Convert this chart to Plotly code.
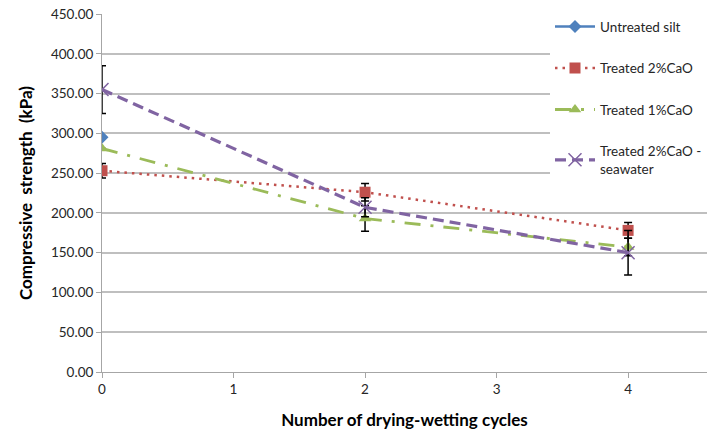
import plotly.graph_objects as go

cycles = [0, 2, 4]
untreated_x = [0]
untreated = [295]
treated2 = [253, 226, 178]
treated2_err = [9, 11, 10]
treated1 = [281, 193, 157]
treated1_err = [0, 16, 11]
seawater = [355, 207, 150]
seawater_err = [30, 12, 28]

font = "Lato, 'Open Sans', sans-serif"

fig = go.Figure()
fig.add_trace(go.Scatter(
    x=untreated_x, y=untreated, name="Untreated silt", mode="lines+markers",
    line=dict(color="#4F81BD", width=2.5),
    marker=dict(symbol="diamond", size=10, color="#4F81BD"),
    legendgroup="a"))
fig.add_trace(go.Scatter(
    x=cycles, y=treated2, name="Treated 2%CaO", mode="lines+markers",
    line=dict(color="#C0504D", width=2.5, dash="2.5px,5px"),
    marker=dict(symbol="square", size=11, color="#C0504D"),
    error_y=dict(type="data", array=treated2_err, color="black", thickness=1.5, width=4),
    legendgroup="b"))
fig.add_trace(go.Scatter(
    x=cycles, y=treated1, name="Treated 1%CaO", mode="lines+markers",
    line=dict(color="#9BBB59", width=2.8, dash="16px,10px,3px,10px"),
    marker=dict(symbol="triangle-up", size=11, color="#9BBB59"),
    error_y=dict(type="data", array=treated1_err, color="black", thickness=1.5, width=4),
    legendgroup="c"))
fig.add_trace(go.Scatter(
    x=cycles, y=seawater, name="Treated 2%CaO -<br>seawater", mode="lines+markers",
    line=dict(color="#8064A2", width=3.2, dash="11px,6px"),
    marker=dict(symbol="x-thin-open", size=13, color="#8064A2", line=dict(color="#8064A2", width=1.5)),
    error_y=dict(type="data", array=seawater_err, color="black", thickness=1.5, width=4),
    legendgroup="d"))

fig.update_layout(
    width=717, height=432,
    margin=dict(l=102, r=10, t=14, b=60),
    paper_bgcolor="white", plot_bgcolor="white",
    font=dict(family=font, size=13, color="#262626"),
    showlegend=True,
    legend=dict(x=1.0, y=1.008, xanchor="right", yanchor="top",
                bgcolor="white", font=dict(size=13.5, color="#262626"),
                tracegroupgap=21, traceorder="grouped", itemwidth=40),
)
fig.update_xaxes(
    range=[0, 4.6], dtick=1, tick0=0, showgrid=False, zeroline=False, automargin=False,
    showline=True, linecolor="#a6a6a6", linewidth=1,
    ticks="outside", ticklen=5, tickcolor="#a6a6a6",
    tickfont=dict(size=13.5),
    title=dict(text="<b>Number of drying-wetting cycles</b>", font=dict(size=17, color="#000000"), standoff=17),
)
fig.update_yaxes(
    range=[0, 450], dtick=50, tickformat=".2f", showgrid=True, gridcolor="#bfbfbf", gridwidth=1.5,
    zeroline=False, showline=True, linecolor="#a6a6a6", linewidth=1, automargin=False,
    ticks="outside", ticklen=5, tickcolor="#a6a6a6",
    tickfont=dict(size=13.5),
    title=dict(text="<b>Compressive  strength  (kPa)</b>", font=dict(size=17, color="#000000"), standoff=14),
)
fig.write_html("out.html")
